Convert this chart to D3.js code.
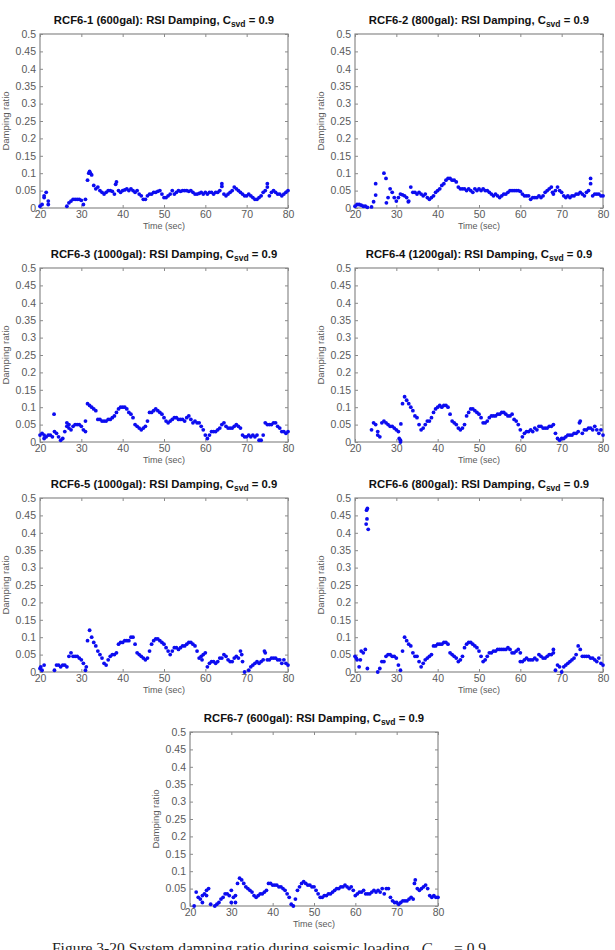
<!DOCTYPE html>
<html>
<head>
<meta charset="utf-8">
<script src="https://cdn.jsdelivr.net/npm/d3@7"></script>
<style>
  html, body { margin: 0; padding: 0; background: #fff; }
  svg { display: block; }
  text { white-space: pre; }
</style>
</head>
<body>
<svg id="chart" width="615" height="950"></svg>
<script>
// ---------------- DATA ----------------
const times = [
  20,20.5,21,21.5,22,22.5,23,23.5,24,24.5,
  25,25.5,26,26.5,27,27.5,28,28.5,29,29.5,
  30,30.5,31,31.5,32,32.5,33,33.5,34,34.5,
  35,35.5,36,36.5,37,37.5,38,38.5,39,39.5,
  40,40.5,41,41.5,42,42.5,43,43.5,44,44.5,
  45,45.5,46,46.5,47,47.5,48,48.5,49,49.5,
  50,50.5,51,51.5,52,52.5,53,53.5,54,54.5,
  55,55.5,56,56.5,57,57.5,58,58.5,59,59.5,
  60,60.5,61,61.5,62,62.5,63,63.5,64,64.5,
  65,65.5,66,66.5,67,67.5,68,68.5,69,69.5,
  70,70.5,71,71.5,72,72.5,73,73.5,74,74.5,
  75,75.5,76,76.5,77,77.5,78,78.5,79,79.5,
  80
];

const panelNames = [
  "RCF6-1 (600gal)", "RCF6-2 (800gal)", "RCF6-3 (1000gal)", "RCF6-4 (1200gal)",
  "RCF6-5 (1000gal)", "RCF6-6 (800gal)", "RCF6-7 (600gal)"
];

const rcf61 = [
  0.005,0.01,0.03,0.045,0.02,null,null,null,null,null,
  null,null,null,0.005,0.015,0.02,0.025,0.025,0.025,0.025,
  0.022,0.01,0.025,0.08,0.105,0.095,0.065,0.055,0.06,0.05,
  0.045,0.04,0.045,0.05,0.05,0.048,0.04,0.075,0.05,0.045,
  0.05,0.052,0.055,0.05,0.055,0.05,0.045,0.05,0.04,0.035,
  0.025,0.025,0.035,0.04,0.04,0.045,0.045,0.048,0.05,0.04,
  0.03,0.03,0.035,0.04,0.05,0.04,0.045,0.05,0.048,0.05,
  0.05,0.05,0.048,0.05,0.045,0.04,0.04,0.042,0.045,0.04,
  0.045,0.04,0.045,0.045,0.04,0.045,0.045,0.05,0.07,0.04,
  0.035,0.04,0.045,0.05,0.06,0.055,0.05,0.045,0.04,0.035,
  0.035,0.04,0.035,0.03,0.025,0.025,0.03,0.035,0.045,0.05,
  0.07,0.035,0.045,0.05,0.045,0.04,0.04,0.035,0.04,0.045,
  0.05
];
const rcf62 = [
  0.005,0.01,0.01,0.008,0.005,0.005,0.002,null,0.003,0.018,
  0.07,null,null,null,0.1,0.085,0.03,0.055,0.045,0.03,
  0.02,0.03,0.04,0.038,0.035,0.03,0.02,0.06,0.045,0.045,
  0.04,0.045,0.04,0.035,0.04,0.03,0.025,0.03,0.035,0.045,
  0.05,0.055,0.065,0.07,0.08,0.085,0.085,0.08,0.08,0.075,
  0.06,0.055,0.055,0.055,0.05,0.055,0.05,0.045,0.055,0.05,
  0.055,0.05,0.055,0.05,0.05,0.045,0.04,0.035,0.04,0.035,
  0.03,0.035,0.04,0.04,0.045,0.05,0.05,0.05,0.05,0.05,
  0.048,0.04,0.035,0.035,0.035,0.025,0.03,0.03,0.03,0.035,
  0.03,0.035,0.045,0.05,0.055,0.06,0.04,0.05,0.06,0.05,
  0.045,0.035,0.03,0.035,0.03,0.035,0.035,0.04,0.04,0.045,
  0.04,0.035,0.045,0.05,0.085,0.035,0.04,0.04,0.04,0.035,
  0.035
];
const rcf63 = [
  0.02,0.025,0.01,0.015,0.02,0.02,0.015,0.03,0.025,0.015,
  0.005,0.01,0.03,0.055,0.05,0.035,0.045,0.05,0.05,0.05,
  0.045,0.035,0.06,0.11,0.105,0.1,0.095,0.09,0.065,0.065,
  0.06,0.06,0.06,0.065,0.065,0.07,0.075,0.085,0.095,0.1,
  0.1,0.1,0.095,0.085,0.08,0.07,0.05,0.045,0.04,0.035,
  0.04,0.045,0.06,0.085,0.085,0.09,0.095,0.09,0.085,0.08,
  0.07,0.06,0.055,0.06,0.065,0.07,0.07,0.065,0.065,0.065,
  0.06,0.07,0.075,0.065,0.055,0.06,0.055,0.055,0.045,0.035,
  0.02,0.01,0.02,0.03,0.03,0.03,0.035,0.04,0.05,0.055,
  0.045,0.04,0.04,0.04,0.045,0.05,0.045,0.04,0.02,0.015,
  0.015,0.02,0.015,0.02,0.015,0.02,0.005,0.005,0.02,0.055,
  0.05,0.05,0.05,0.055,0.055,0.045,0.04,0.03,0.03,0.025,
  0.03
];
const rcf64 = [
  null,null,null,null,null,null,null,null,0.035,0.055,
  0.05,0.03,0.015,0.055,0.06,0.055,0.05,0.045,0.045,0.04,
  0.035,0.03,0.005,0.11,0.13,0.12,0.11,0.1,0.09,0.075,
  0.07,0.05,0.035,0.04,0.05,0.06,0.06,0.07,0.085,0.095,
  0.1,0.105,0.1,0.105,0.105,0.1,0.08,0.06,0.055,0.05,
  0.04,0.035,0.04,0.05,0.075,0.085,0.095,0.095,0.09,0.085,
  0.08,0.07,0.055,0.055,0.06,0.07,0.075,0.075,0.075,0.08,
  0.08,0.085,0.085,0.08,0.075,0.075,0.08,0.065,0.06,0.05,
  0.035,0.015,0.025,0.03,0.03,0.035,0.03,0.04,0.035,0.045,
  0.045,0.04,0.04,0.04,0.045,0.045,0.05,0.025,0.01,0.005,
  0.01,0.01,0.015,0.02,0.02,0.02,0.025,0.025,0.03,0.06,
  0.025,0.035,0.035,0.04,0.04,0.035,0.045,0.035,0.025,0.035,
  0.02
];
const rcf65 = [
  0.01,0.005,0.02,null,null,null,null,0.005,0.02,0.02,
  0.015,0.02,0.02,0.015,0.045,0.055,0.045,0.045,0.045,0.04,
  0.035,0.025,0.005,0.09,0.12,0.1,0.085,0.075,0.06,0.05,
  0.04,0.025,0.02,0.035,0.045,0.05,0.05,0.055,0.08,0.085,
  0.085,0.09,0.09,0.09,0.1,0.1,0.08,0.055,0.05,0.045,
  0.04,0.035,0.04,0.06,0.08,0.09,0.095,0.095,0.09,0.085,
  0.08,0.07,0.06,0.05,0.06,0.07,0.07,0.065,0.07,0.075,
  0.075,0.08,0.085,0.085,0.08,0.075,0.06,0.04,0.045,0.05,
  0.055,0.015,0.025,0.03,0.03,0.025,0.03,0.04,0.04,0.05,
  0.045,0.035,0.03,0.03,0.04,0.045,0.04,0.06,0.03,0.0,
  null,0.005,0.015,0.02,0.025,0.03,0.025,0.03,0.035,0.055,
  0.035,0.035,0.04,0.04,0.04,0.035,0.035,0.025,0.035,0.025,
  0.02
];
const rcf66 = [
  0.045,0.035,0.015,0.06,0.055,0.065,0.01,null,null,null,
  null,0.0,0.01,0.03,0.03,0.045,0.05,0.05,0.045,0.045,
  0.04,0.02,0.005,0.06,0.1,0.09,0.08,0.075,0.055,0.045,
  0.045,0.03,0.015,0.025,0.035,0.04,0.045,0.05,0.075,0.075,
  0.08,0.08,0.08,0.085,0.085,0.08,0.055,0.05,0.045,0.04,
  0.03,0.035,0.045,0.07,0.08,0.085,0.085,0.08,0.075,0.07,
  0.06,0.045,0.03,0.035,0.045,0.055,0.055,0.06,0.06,0.065,
  0.065,0.065,0.065,0.065,0.07,0.065,0.055,0.055,0.06,0.065,
  0.03,0.03,0.035,0.04,0.035,0.035,0.035,0.04,0.035,0.05,
  0.045,0.04,0.04,0.045,0.05,0.05,0.065,0.005,0.02,0.015,
  0.0,0.015,0.02,0.025,0.03,0.035,0.04,0.05,0.075,0.065,
  0.045,0.045,0.045,0.045,0.04,0.04,0.035,0.03,0.04,0.025,
  0.02
];
const rcf67 = [
  null,null,0.0,0.04,0.025,0.02,0.01,0.035,0.045,0.05,
  0.005,null,0.0,0.005,0.01,0.02,0.025,0.035,0.035,0.03,
  0.045,0.025,0.03,0.065,0.08,0.075,0.065,0.055,0.05,0.045,
  0.04,0.03,0.025,0.03,0.035,0.035,0.04,0.045,0.065,0.065,
  0.06,0.06,0.06,0.055,0.055,0.05,0.045,0.035,0.025,0.005,
  0.0,0.02,0.045,0.055,0.065,0.07,0.065,0.06,0.06,0.055,
  0.055,0.045,0.035,0.025,0.025,0.03,0.03,0.035,0.035,0.04,
  0.045,0.05,0.05,0.055,0.055,0.06,0.055,0.05,0.055,0.045,
  0.03,0.035,0.04,0.04,0.045,0.035,0.035,0.035,0.04,0.045,
  0.04,0.045,0.04,0.05,0.035,0.05,0.05,0.025,0.015,0.01,
  0.01,0.005,0.01,0.015,0.015,0.015,0.02,0.025,0.02,0.075,
  0.05,0.045,0.05,0.055,0.06,0.05,0.03,0.025,0.03,0.025,
  0.025
];

// extra scattered samples [time, ratio]
const extra61 = [[21,0.035],[22,0.01],[31.8,0.1],[32.2,0.1],[38.3,0.068],[64,0.062],[75,0.06]];
const extra62 = [[25,0.037],[27.6,0.015],[77,0.07],[32.9,0.018],[67.8,0.045]];
const extra63 = [[23.4,0.08],[21,0.02],[27,0.04],[31,0.03],[26.5,0.045]];
const extra64 = [[25.5,0.02],[31.1,0.052],[31,0.0],[74.3,0.055],[30.7,0.01]];
const extra65 = [[20.2,0.015],[31.2,0.015],[59.2,0.035],[68.8,0.05],[74.3,0.06]];
const extra66 = [[22.7,0.425],[22.8,0.465],[23.0,0.47],[22.9,0.44],[23.2,0.41],[21.3,0.035],[20.3,0.04],[60,0.055],[68,0.055]];
const extra67 = [[23,0.03],[30,0.01],[24,0.03],[74.3,0.065],[31,0.01]];

const xTicks = [20, 30, 40, 50, 60, 70, 80];
const xTickLabels = ["20", "30", "40", "50", "60", "70", "80"];
const yTicks = [0, 0.05, 0.1, 0.15, 0.2, 0.25, 0.3, 0.35, 0.4, 0.45, 0.5];
const yTickLabels = ["0", "0.05", "0.1", "0.15", "0.2", "0.25", "0.3", "0.35", "0.4", "0.45", "0.5"];

const seriesList = [rcf61, rcf62, rcf63, rcf64, rcf65, rcf66, rcf67];
const extraList = [extra61, extra62, extra63, extra64, extra65, extra66, extra67];

// ---------------- LAYOUT ----------------
const panelPos = [
  [40, 34], [355, 34],
  [40, 268], [355, 268],
  [40, 498], [355, 498],
  [190, 732]
];
const W = 248, H = 174;
const sans = "'Liberation Sans', Arial, sans-serif";
const axisGray = "#8a8a8a";
const labelGray = "#5a5a5a";
const dotColor = "#0c0cf0";

const svg = d3.select("#chart");
svg.append("rect").attr("width", 615).attr("height", 950).attr("fill", "#fff");

const x = d3.scaleLinear().domain([20, 80]).range([0, W]);
const y = d3.scaleLinear().domain([0, 0.5]).range([H, 0]);

seriesList.forEach((series, i) => {
  const [px, py] = panelPos[i];
  const g = svg.append("g").attr("transform", `translate(${px},${py})`);

  g.append("rect").attr("width", W).attr("height", H)
    .attr("fill", "#fff").attr("stroke", axisGray).attr("stroke-width", 1.2);

  const styleAxis = sel => {
    sel.select(".domain").remove();
    sel.selectAll(".tick line").attr("stroke", axisGray).attr("stroke-width", 1);
    sel.selectAll(".tick text").attr("fill", labelGray)
      .style("font-family", sans).style("font-size", "10.5px");
  };

  g.append("g").attr("transform", `translate(0,${H})`)
    .call(d3.axisBottom(x).tickValues(xTicks).tickFormat((d, k) => xTickLabels[k])
      .tickSizeInner(-3).tickSizeOuter(0).tickPadding(3))
    .call(styleAxis);
  g.append("g")
    .call(d3.axisTop(x).tickValues(xTicks).tickFormat("")
      .tickSizeInner(-3).tickSizeOuter(0))
    .call(styleAxis);
  g.append("g")
    .call(d3.axisLeft(y).tickValues(yTicks).tickFormat((d, k) => yTickLabels[k])
      .tickSizeInner(-3).tickSizeOuter(0).tickPadding(4))
    .call(styleAxis);
  g.append("g").attr("transform", `translate(${W},0)`)
    .call(d3.axisRight(y).tickValues(yTicks).tickFormat("")
      .tickSizeInner(-3).tickSizeOuter(0))
    .call(styleAxis);

  const pts = times.map((t, j) => [t, series[j]])
    .filter(d => d[1] !== null)
    .concat(extraList[i]);

  g.append("g").selectAll("circle").data(pts).join("circle")
    .attr("cx", d => x(d[0])).attr("cy", d => y(d[1]))
    .attr("r", 1.9).attr("fill", dotColor);

  // title
  const title = g.append("text").attr("x", W / 2).attr("y", -10)
    .attr("text-anchor", "middle").attr("fill", "#111")
    .style("font-family", sans).style("font-size", "11.3px").style("font-weight", "bold");
  title.append("tspan").text(panelNames[i] + ": RSI Damping, C");
  title.append("tspan").attr("dy", 3).style("font-size", "8.5px").text("svd");
  title.append("tspan").attr("dy", -3).text(" = 0.9");

  // y label
  g.append("text").attr("transform", `translate(-31,${H / 2}) rotate(-90)`)
    .attr("text-anchor", "middle").attr("fill", labelGray)
    .style("font-family", sans).style("font-size", "9.5px")
    .text("Damping ratio");

  // x label
  g.append("text").attr("x", W / 2).attr("y", H + 21)
    .attr("text-anchor", "middle").attr("fill", labelGray)
    .style("font-family", sans).style("font-size", "9px")
    .text("Time (sec)");
});

// caption (cut by the bottom edge, as in the source)
const cap = svg.append("text").attr("x", 52).attr("y", 953)
  .attr("fill", "#222")
  .style("font-family", "'Liberation Serif', 'Times New Roman', serif")
  .style("font-size", "15.5px");
cap.append("tspan").text("Figure 3-20 System damping ratio during seismic loading,  ");
cap.append("tspan").style("font-style", "italic").text("C");
cap.append("tspan").attr("dy", 4).style("font-size", "10.5px").text("svd");
cap.append("tspan").attr("dy", -4).text("  = 0.9");
</script>
</body>
</html>
